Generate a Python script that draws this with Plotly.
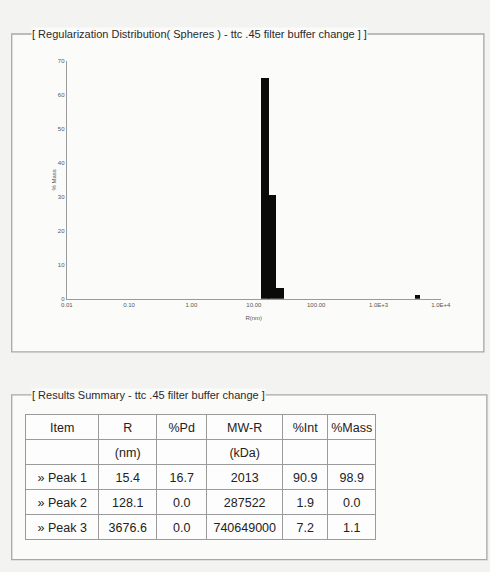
import numpy as np
import plotly.graph_objects as go

# ---- data ----
bin_radius_nm = [15.0, 19.5, 26.0, 4150.0]
bin_width_decades = [0.12, 0.12, 0.12, 0.08]
mass_pct = [65.0, 30.5, 3.3, 1.1]

x_tick_vals = [0.01, 0.1, 1, 10, 100, 1000, 10000]
x_tick_text = ["0.01", "0.10", "1.00", "10.00", "100.00", "1.0E+3", "1.0E+4"]
y_tick_vals = [0, 10, 20, 30, 40, 50, 60, 70]

table_header = ["Item", "R", "%Pd", "MW-R", "%Int", "%Mass"]
col_item = ["", "» Peak 1", "» Peak 2", "» Peak 3"]
col_r = ["(nm)", "15.4", "128.1", "3676.6"]
col_pd = ["", "16.7", "0.0", "0.0"]
col_mw = ["(kDa)", "2013", "287522", "740649000"]
col_int = ["", "90.9", "1.9", "7.2"]
col_mass = ["", "98.9", "0.0", "1.1"]

chart_title = "[ Regularization Distribution( Spheres ) - ttc .45 filter buffer change ] ]"
table_title = "[ Results Summary - ttc .45 filter buffer change ]"

W, H = 490, 572
FONT = "Liberation Sans Narrow, Arial Narrow, Liberation Sans, Arial, sans-serif"
PAPER = "#f3f3f1"
PANEL = "#fbfbfa"
FRAME = "#a8a8a8"

# mapping from target picture pixels to page pixels (measured on the renderer)
def page_x(x):
    return (x - 6.3) / 0.967

def page_y(y):
    return (y - 2.0) / 0.99

def px(x):
    return page_x(x) / W

def py(y):
    return 1 - page_y(y) / H

nb = lambda s: s.replace(" ", "\u00a0")

col_edges = [26, 99, 157, 207, 283, 328, 376]
col_w = [page_x(b) - page_x(a) for a, b in zip(col_edges[:-1], col_edges[1:])]

fig = go.Figure()

fig.add_trace(go.Bar(
    x=np.log10(bin_radius_nm),
    y=mass_pct,
    width=bin_width_decades,
    marker=dict(color="#0a0a0a", line=dict(width=0)),
    xaxis="x", yaxis="y",
    showlegend=False,
))

fig.add_trace(go.Table(
    domain=dict(x=[px(26), px(376)], y=[py(545), py(414)]),
    columnwidth=col_w,
    header=dict(
        values=table_header,
        height=25,
        fill_color="#fdfdfd",
        line=dict(color="#9a9a9a", width=1),
        align="center",
        font=dict(family=FONT, size=12.5, color="#222222"),
    ),
    cells=dict(
        values=[[nb(v) for v in col_item], col_r, col_pd, col_mw, col_int, col_mass],
        height=25,
        fill_color="#fdfdfd",
        line=dict(color="#9a9a9a", width=1),
        align="center",
        font=dict(family=FONT, size=12.5, color="#222222"),
    ),
))

shapes = [
    dict(type="rect", xref="paper", yref="paper",
         x0=px(12), x1=px(484), y0=py(351), y1=py(33),
         fillcolor=PANEL, line=dict(color=FRAME, width=1.3), layer="below"),
    dict(type="rect", xref="paper", yref="paper",
         x0=px(12), x1=px(487), y0=py(559), y1=py(394),
         fillcolor=PANEL, line=dict(color=FRAME, width=1.3), layer="below"),
]

annotations = [
    dict(text=chart_title, xref="paper", yref="paper", x=px(31), y=py(33),
         xanchor="left", yanchor="middle", showarrow=False,
         bgcolor=PANEL, borderpad=0,
         font=dict(family=FONT, size=11, color="#2a2a2a")),
    dict(text=table_title, xref="paper", yref="paper", x=px(31), y=py(394),
         xanchor="left", yanchor="middle", showarrow=False,
         bgcolor=PANEL, borderpad=0,
         font=dict(family=FONT, size=11, color="#2a2a2a")),
]

fig.update_layout(
    width=W, height=H,
    margin=dict(l=0, r=0, t=0, b=0),
    paper_bgcolor=PAPER,
    plot_bgcolor="rgba(0,0,0,0)",
    bargap=0,
    shapes=shapes,
    annotations=annotations,
    xaxis=dict(
        domain=[px(67), px(441)],
        range=[-2, 4],
        tickvals=list(np.log10(x_tick_vals)),
        ticktext=x_tick_text,
        showgrid=False, zeroline=False,
        showline=True, linecolor="#9a9a9a", linewidth=1,
        ticks="", tickfont=dict(family=FONT, size=6, color="#555555"),
        title=dict(text="R(nm)", font=dict(family=FONT, size=6, color="#555555"), standoff=8),
        anchor="y",
    ),
    yaxis=dict(
        domain=[py(298), py(60)],
        range=[0, 70],
        tickvals=y_tick_vals,
        showgrid=False, zeroline=False,
        showline=True, linecolor="#9a9a9a", linewidth=1,
        ticks="", tickfont=dict(family=FONT, size=6, color="#555555"),
        title=dict(text="% Mass", font=dict(family=FONT, size=6, color="#555555"), standoff=0),
        anchor="x",
    ),
)

fig.write_html(
    "out.html",
    config={"displayModeBar": False},
    post_script="document.body.style.margin='0';document.body.style.overflow='hidden';"
                "document.body.style.background='" + PAPER + "';",
)
